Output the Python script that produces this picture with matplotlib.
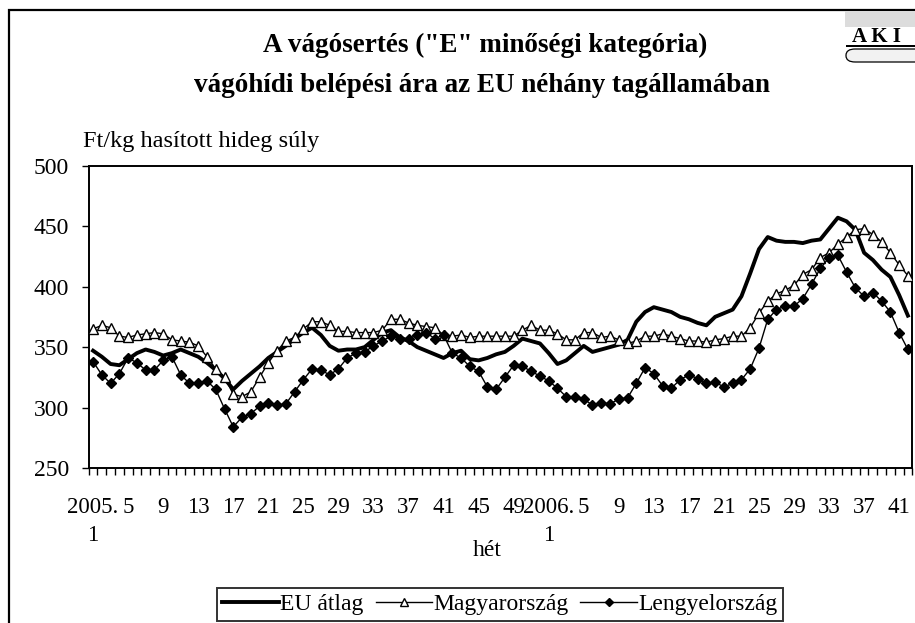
import matplotlib
matplotlib.use("Agg")
import matplotlib.pyplot as plt
from matplotlib.patches import Rectangle, FancyBboxPatch
import numpy as np

plt.rcParams['font.family'] = ['Liberation Serif', 'DejaVu Serif']

# weeks 2005.1 .. 2005.52, 2006.1 .. 2006.42
weeks = ["2005.%d" % w for w in range(1, 53)] + ["2006.%d" % w for w in range(1, 43)]

eu_atlag = [347, 342, 336, 335, 340, 345, 348, 346, 343, 345,
            348, 345, 342, 337, 331, 324, 315, 322, 328, 334,
            341, 346, 351, 357, 362, 366, 360, 351, 347, 348,
            348, 350, 356, 362, 364, 358, 355, 350, 347, 344,
            341, 345, 347, 340, 339, 341, 344, 346, 351, 357,
            355, 353, 345, 336, 339, 345, 351, 346, 348, 350,
            352, 356, 371, 379, 383, 381, 379, 375, 373, 370,
            368, 375, 378, 381, 392, 411, 431, 441, 438, 437,
            437, 436, 438, 439, 448, 457, 454, 447, 428, 422,
            414, 408, 393, 376]

magyarorszag = [365, 368, 366, 359, 358, 360, 361, 362, 361, 356,
                355, 354, 351, 342, 332, 325, 311, 309, 313, 325,
                337, 347, 355, 358, 365, 371, 371, 368, 363, 363,
                362, 362, 362, 364, 373, 373, 370, 368, 367, 366,
                360, 359, 360, 358, 359, 359, 359, 359, 359, 364,
                368, 364, 364, 361, 356, 356, 362, 362, 358, 359,
                356, 353, 355, 359, 359, 361, 359, 357, 355, 355,
                354, 356, 357, 359, 359, 366, 378, 388, 394, 397,
                401, 410, 414, 424, 428, 435, 441, 447, 448, 443,
                437, 428, 418, 409]

lengyelorszag = [338, 327, 320, 328, 341, 337, 331, 331, 339, 342,
                 327, 320, 320, 322, 315, 299, 284, 292, 295, 301,
                 304, 302, 303, 313, 323, 332, 331, 327, 332, 341,
                 345, 346, 351, 355, 359, 357, 357, 360, 362, 357,
                 360, 345, 341, 334, 330, 317, 315, 325, 335, 334,
                 330, 326, 322, 316, 309, 309, 307, 302, 304, 303,
                 307, 308, 320, 333, 328, 318, 316, 323, 327, 324,
                 320, 321, 317, 320, 323, 332, 349, 373, 381, 384,
                 384, 390, 402, 415, 424, 426, 412, 399, 392, 395,
                 388, 379, 362, 348]

# tick labels every 4 weeks
tick_pos = []
tick_lab = []
for i, w in enumerate(weeks):
    year, wk = w.split(".")
    if wk == "1":
        tick_pos.append(i)
        tick_lab.append(year + ".\n1")
    elif (int(wk) - 1) % 4 == 0:
        tick_pos.append(i)
        tick_lab.append(wk)

W, H = 915, 623
fig = plt.figure(figsize=(W / 100, H / 100), dpi=100)

def fx(px):
    return px / W

def fy(py):
    return 1 - py / H

ax = fig.add_axes([fx(88.7), fy(468), fx(912.3 - 88.7), fy(165.7) - fy(468)])

x = np.arange(len(weeks))
ax.plot(x, eu_atlag, color="black", linewidth=2.8, label="EU átlag", zorder=3)
ax.plot(x, magyarorszag, color="black", linewidth=1.0, marker="^", markersize=6.5,
        markerfacecolor="white", markeredgecolor="black", markeredgewidth=1.0,
        label="Magyarország", zorder=4)
ax.plot(x, lengyelorszag, color="black", linewidth=1.0, marker="D", markersize=5.5,
        markerfacecolor="black", markeredgecolor="black", label="Lengyelország", zorder=5)

ax.set_xlim(-0.5, len(weeks) - 0.5)
ax.set_ylim(250, 500)
ax.set_yticks(np.arange(250, 501, 50))
ax.set_xticks(tick_pos)
ax.set_xticklabels(tick_lab, linespacing=1.45)
ax.set_xticks(np.arange(-0.5, len(weeks), 1.0), minor=True)
ax.tick_params(axis="x", which="major", length=0, pad=21, labelsize=16.5)
ax.tick_params(axis="x", which="minor", length=5, width=1, direction="out")
ax.tick_params(axis="y", which="major", length=5, width=1, direction="out", pad=9, labelsize=17)
for s in ax.spines.values():
    s.set_linewidth(1.4)
    s.set_color("black")

# title and axis texts
fig.text(fx(485), fy(45), 'A vágósertés ("E" minőségi kategória)', ha="center", va="center",
         fontsize=19.5, fontweight="bold")
fig.text(fx(482), fy(86), "vágóhídi belépési ára az EU néhány tagállamában", ha="center",
         va="center", fontsize=19.5, fontweight="bold")
fig.text(fx(83), fy(142), "Ft/kg hasított hideg súly", ha="left", va="center", fontsize=17.5)
fig.text(fx(487), fy(550), "hét", ha="center", va="center", fontsize=17)

leg = fig.legend(loc="upper center", bbox_to_anchor=(fx(500), fy(588)), ncol=3,
                 fontsize=17, frameon=True, fancybox=False, edgecolor="black",
                 handlelength=2.4, handletextpad=0.05, columnspacing=0.5,
                 borderpad=0.25, borderaxespad=0, markerscale=0.8)
leg.get_frame().set_linewidth(1.4)

# outer frame
fig.patches.append(Rectangle((fx(9), -0.1), 1.2, fy(10) + 0.1, transform=fig.transFigure,
                             fill=False, edgecolor="black", linewidth=1.6))

# AKI logo
fig.patches.append(Rectangle((fx(845), fy(27)), fx(75), fy(11) - fy(27), transform=fig.transFigure,
                             facecolor="#dcdcdc", edgecolor="none", zorder=2))
fig.patches.append(FancyBboxPatch((fx(846), fy(62)), fx(80), fy(49) - fy(62),
                                  boxstyle="round,pad=0,rounding_size=0.01",
                                  transform=fig.transFigure, facecolor="#f2f2f2",
                                  edgecolor="black", linewidth=0.9, zorder=2))
fig.text(fx(877), fy(37), "A K I", ha="center", va="center", fontsize=15, fontweight="bold")
fig.patches.append(Rectangle((fx(846), fy(47)), fx(70), fy(45) - fy(47),
                             transform=fig.transFigure, facecolor="black", edgecolor="none"))

fig.savefig("out.png", dpi=100)
